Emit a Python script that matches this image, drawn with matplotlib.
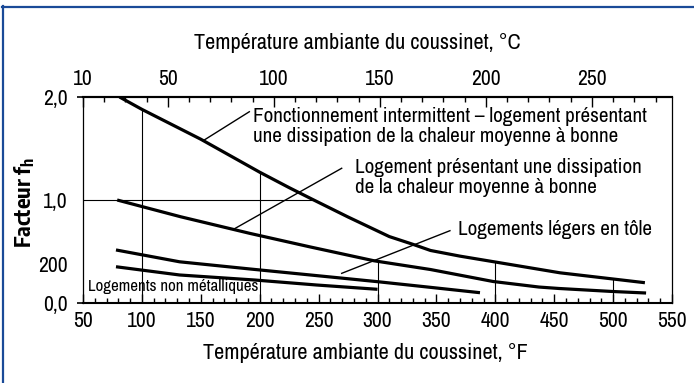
import numpy as np
import matplotlib
matplotlib.use("Agg")
import matplotlib.pyplot as plt
from matplotlib.lines import Line2D

plt.rcParams['font.family'] = ['Archivo Narrow', 'DejaVu Sans']
plt.rcParams['mathtext.fontset'] = 'custom'
plt.rcParams['mathtext.bf'] = 'Encode Sans Condensed:bold'
plt.rcParams['mathtext.rm'] = 'Archivo Narrow'

# Facteur f_h en fonction de la température ambiante (°F)
interm_x = [81, 100, 125, 150, 175, 200, 225, 245, 275, 310, 330, 345, 370, 400, 455, 527]
interm_y = [2.0, 1.88, 1.735, 1.59, 1.43, 1.27, 1.12, 1.005, 0.835, 0.645, 0.57, 0.51, 0.455, 0.398, 0.293, 0.197]

moyen_x = [79, 133, 192, 243, 297, 345, 398, 437, 454, 499, 528]
moyen_y = [1.0, 0.837, 0.675, 0.544, 0.41, 0.325, 0.209, 0.155, 0.141, 0.112, 0.097]

tole_x = [78, 132, 192, 243, 300, 345, 387]
tole_y = [0.515, 0.40, 0.33, 0.272, 0.207, 0.152, 0.10]

nonmet_x = [78, 132, 196, 248, 300]
nonmet_y = [0.352, 0.272, 0.223, 0.175, 0.133]

# lignes de lecture verticales et courbe où elles s'arrêtent
ref_x = [100, 200, 300, 400, 500]
ref_curve = ['interm', 'interm', 'moyen', 'interm', 'interm']

y_ticks = [0.0, 2.0]
y_ticklabels = ['0,0', '2,0']
y_minor = [0.38, 1.0]
y_minorlabels = ['200', '1,0']

curves = {
    'interm': (interm_x, interm_y),
    'moyen': (moyen_x, moyen_y),
    'tole': (tole_x, tole_y),
    'nonmet': (nonmet_x, nonmet_y),
}


def f2c(f):
    return (np.asarray(f) - 32) * 5 / 9


def c2f(c):
    return np.asarray(c) * 9 / 5 + 32


fig = plt.figure(figsize=(6.94, 3.83), dpi=100)
ax = fig.add_axes([83 / 694, 80 / 383, 589 / 694, 206 / 383])
ax.set_xlim(50, 550)
ax.set_ylim(0, 2.0)

# lignes de lecture
for x, name in zip(ref_x, ref_curve):
    cx, cy = curves[name]
    top = np.interp(x, cx, cy)
    ax.plot([x, x], [0, top], color='black', lw=0.8)
x_cross = np.interp(-1.0, -np.array(interm_y), interm_x)
ax.plot([50, x_cross], [1.0, 1.0], color='black', lw=0.8)

for cx, cy in curves.values():
    ax.plot(cx, cy, color='black', lw=2.3, solid_capstyle='butt')

# repères des légendes
leaders = [
    ('interm', 152.1, (191.2, 1.857)),
    ('moyen', 177.6, (269.6, 1.308)),
]
for name, x0, end in leaders:
    cx, cy = curves[name]
    ax.plot([x0, end[0]], [np.interp(x0, cx, cy), end[1]], color='black', lw=1.0)
ax.plot([269.6, 361.5], [0.288, 0.702], color='black', lw=1.0)

ax.text(194.3, 1.714, "Fonctionnement intermittent \u2013 logement présentant\n"
        "une dissipation de la chaleur moyenne à bonne",
        ha='left', va='center', fontsize=15.2, linespacing=1.05)
ax.text(280.9, 1.218, "Logement présentant une dissipation\n"
        "de la chaleur moyenne à bonne",
        ha='left', va='center', fontsize=15.2, linespacing=1.05)
ax.text(368.3, 0.709, "Logements légers en tôle", ha='left', va='center', fontsize=15.2)
ax.text(54.2, 0.158, "Logements non métalliques", ha='left', va='center', fontsize=12.1)

# axes
ax.set_xticks(np.arange(50, 551, 50))
ax.set_xticks(np.arange(50, 551, 10), minor=True)
ax.tick_params(axis='x', which='major', direction='in', length=6.5, width=1.0,
               labelsize=15.5, pad=5.5, top=False)
ax.tick_params(axis='x', which='minor', direction='in', length=3.6, width=1.0, top=False)

ax.set_yticks(y_ticks, labels=y_ticklabels)
ax.set_yticks(y_minor, labels=y_minorlabels, minor=True)
ax.tick_params(axis='y', which='major', direction='out', length=4.5, width=1.2,
               labelsize=15.5, pad=6.5)
ax.tick_params(axis='y', which='minor', length=0, labelsize=15.5, pad=10.8)

for side in ['top', 'bottom']:
    ax.spines[side].set_linewidth(1.5)
for side in ['left', 'right']:
    ax.spines[side].set_linewidth(0.9)

secax = ax.secondary_xaxis('top', functions=(f2c, c2f))
secax.set_xticks([10, 50, 100, 150, 200, 250])
secax.set_xticks(np.arange(10, 281, 10), minor=True)
secax.tick_params(which='major', direction='in', length=7, width=1.0, labelsize=15.5, pad=5.5)
secax.tick_params(which='minor', direction='in', length=3.6, width=1.0)
secax.spines['top'].set_linewidth(1.5)

fig.text(357 / 694, 1 - 43 / 383, "Température ambiante du coussinet, °C",
         ha='center', va='center', fontsize=16)
fig.text(365 / 694, 1 - 353 / 383, "Température ambiante du coussinet, °F",
         ha='center', va='center', fontsize=16)
fig.text(25 / 694, 1 - 202 / 383, r"Facteur f$_{\mathbf{h}}$", rotation=90,
         ha='center', va='center', fontsize=16, fontweight='bold',
         family=['Encode Sans Condensed', 'DejaVu Sans'])

# cadre bleu (haut et gauche)
frame_color = '#1a4a98'
fig.add_artist(Line2D([2 / 694, 1], [1 - 6.5 / 383, 1 - 6.5 / 383],
                      transform=fig.transFigure, color=frame_color, lw=1.6))
fig.add_artist(Line2D([2.5 / 694, 2.5 / 694], [0, 1 - 6 / 383],
                      transform=fig.transFigure, color=frame_color, lw=1.6))

fig.savefig('out.png', dpi=100)
